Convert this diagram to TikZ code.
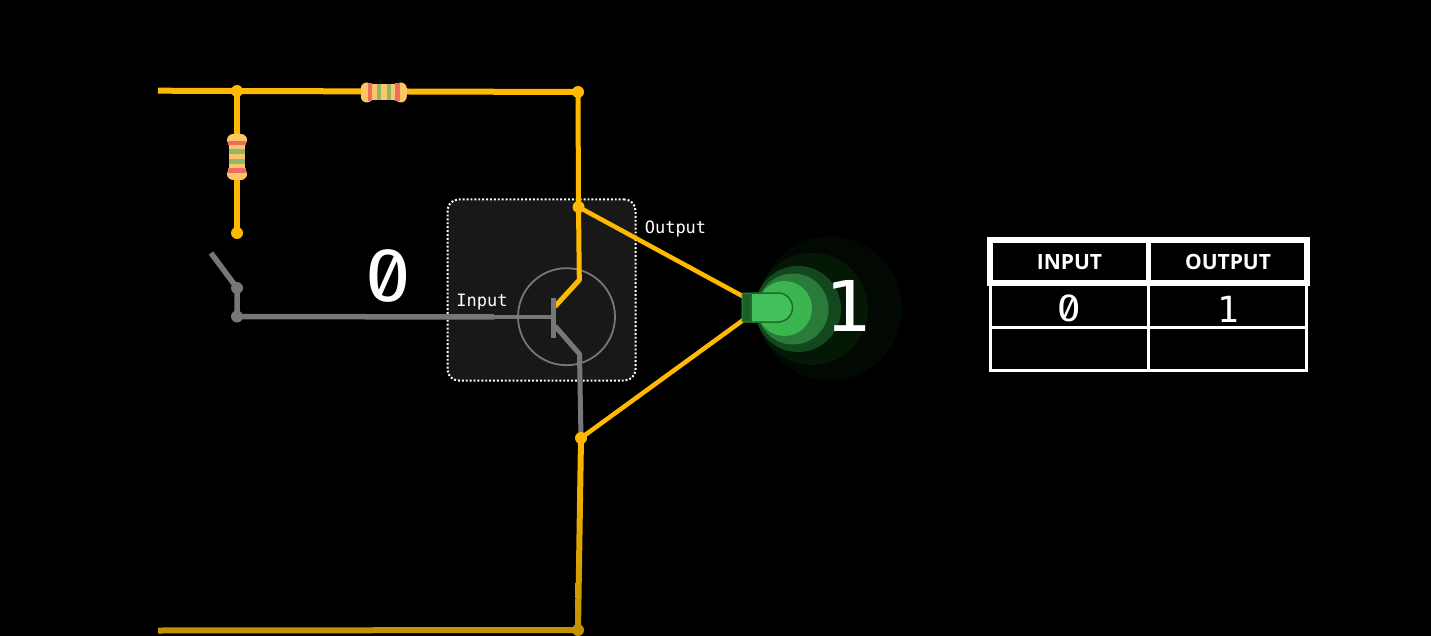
\documentclass[tikz,border=0pt]{standalone}
\usepackage{fontspec}
\setmainfont{Open Sans}
\newfontfamily\monof{DejaVu Sans Mono}
\newfontfamily\slashf[Numbers={SlashedZero,Monospaced}]{Fira Sans}
\definecolor{wireY}{HTML}{FFB900}
\definecolor{wireG}{HTML}{777777}
\definecolor{wireD}{HTML}{C29200}
\definecolor{boxbg}{HTML}{181818}
\definecolor{resBody}{HTML}{FDC565}
\definecolor{resRed}{HTML}{E8705C}
\definecolor{resGreen}{HTML}{8FB86C}
\definecolor{ledEdge}{HTML}{1F6B28}
\definecolor{ledBase}{HTML}{1C5E25}
\definecolor{ledBody}{HTML}{42C05A}
\definecolor{ledRim}{HTML}{2F8F3E}
\definecolor{glowA}{HTML}{020802}
\definecolor{glowB}{HTML}{051806}
\definecolor{glowC}{HTML}{13481E}
\definecolor{glowD}{HTML}{2A7A3A}
\definecolor{glowE}{HTML}{3CB54F}
\tikzset{
  wirey/.style={draw=wireY,line width=5pt,line join=round},
  wireg/.style={draw=wireG,line width=5.5pt,line join=round},
  dot/.style={circle,inner sep=0pt,minimum size=12pt,draw=none},
  ydot/.style={dot,fill=wireY},
  gdot/.style={dot,fill=wireG},
  mono/.style={text=white,font=\monof\fontsize{#1}{#1}\selectfont,inner sep=0pt},
  zeroface/.style={text=white,xscale=1.1,font=\slashf\fontsize{#1}{#1}\selectfont,inner sep=0pt},
  head/.style={text=white,font=\bfseries\fontsize{21}{21}\selectfont,inner sep=0pt},
  resistor/.pic={
    \fill[resBody,rounded corners=6pt] (-23,-10) rectangle (-11,10);
    \fill[resBody,rounded corners=6pt] (11,-10) rectangle (23,10);
    \fill[resBody] (-14,-8) rectangle (14,8);
    \fill[resRed] (-16,-9) rectangle (-11.5,9);
    \fill[resRed] (11.5,-9) rectangle (16,9);
    \fill[resGreen] (-7,-8) rectangle (-2.5,8);
    \fill[resGreen] (3,-8) rectangle (7.5,8);
  }
}
\begin{document}
\begin{tikzpicture}[x=1pt,y=-1pt]
\useasboundingbox (0,0) rectangle (1431,636);
\fill[black] (0,0) rectangle (1431,636);
% transistor box
\node[draw=white,fill=boxbg,line width=2pt,dash pattern=on 1.9pt off 2pt,rounded corners=11pt,
      minimum width=188pt,minimum height=181pt,inner sep=0pt] (box) at (541.5,290) {};
\node[circle,draw=wireG,line width=1.8pt,minimum size=97pt,inner sep=0pt] (trans) at (566.5,316.7) {};
% junction positions
\coordinate (left) at (158,90.7);
\coordinate (jtl) at (237,91);
\coordinate (jtr) at (578,92);
\coordinate (jcoll) at (578.5,207);
\coordinate (jc) at (579.3,280);
\coordinate (cb) at (555,306.5);
\coordinate (eb) at (555,326);
\coordinate (ee) at (579.5,354);
\coordinate (jemit) at (581,438);
\coordinate (jbr) at (578,630);
\coordinate (bl) at (158,630.5);
\coordinate (jopen) at (237,233);
\coordinate (sw) at (237,288);
\coordinate (swt) at (211,253);
\coordinate (jin) at (237,316.5);
\coordinate (inend) at (494,317);
\coordinate (bar) at (553,317);
\coordinate (bart) at (553,297.5);
\coordinate (barb) at (553,337.5);
\coordinate (ledt) at (746,298);
\coordinate (ledb) at (746,318);
% wires
\draw[wirey,line width=6pt] (left) -- (jtl) -- (jtr);
\draw[wirey,line width=6pt] (jtl) -- (jopen);
\draw[wirey] (jtr) -- (jcoll) -- (jc) -- (cb);
\draw[wirey,line width=4.5pt] (jcoll) -- (ledt);
\draw[wirey,line width=4.5pt] (jemit) -- (ledb);
\draw[wireg] (swt) -- (sw) -- (jin) -- (inend);
\draw[wireg,line width=3.5pt] (inend) -- (bar);
\draw[wireg,line width=5pt] (eb) -- (ee) -- (jemit);
\draw[draw=wireG,line width=5pt] (bart) -- (barb);
\shade[top color=wireY,bottom color=wireD] (578,438) -- (584,438) -- (581,630) -- (575,630) -- cycle;
\draw[draw=wireD,line width=6pt] (bl) -- (jbr);
% dots
\node[ydot] (d1) at (jtl) {};
\node[ydot] (d2) at (jtr) {};
\node[ydot] (d3) at (jcoll) {};
\node[ydot] (d4) at (jemit) {};
\node[dot,fill=wireD] (d5) at (jbr) {};
\node[ydot] (d6) at (jopen) {};
\node[gdot] (d7) at (sw) {};
\node[gdot] (d8) at (jin) {};
% resistors
\pic at (383.8,92.5) {resistor};
\pic[rotate=90] at (237,157) {resistor};
% LED glow
\fill[glowA] (830,308.5) circle[radius=72];
\fill[glowB] (812,309) circle[radius=56];
\fill[glowC] (798,309) circle[radius=43];
\fill[glowD] (793,309) circle[radius=35.5];
\fill[glowE] (784.5,308.5) circle[radius=27.5];
% LED
\node[draw=ledRim,fill=ledBase,line width=1pt,minimum width=9pt,minimum height=29pt,inner sep=0pt,rounded corners=1pt] (ledbase) at (746.5,307.5) {};
\draw[draw=ledEdge,fill=ledBody,line width=1.5pt]
  (751,293) -- (778,293) arc[start angle=90,end angle=-90,x radius=14.5,y radius=-14.5] -- (751,322) -- cycle;
% labels
\node[zeroface=74,anchor=base] (zero) at (388,301) {0};
\node[mono=70,anchor=base,xscale=1.1] (one) at (847.5,331) {1};
\node[mono=17,anchor=base] (inp) at (482,306) {Input};
\node[mono=17,anchor=base] (outp) at (675.5,234) {Output};
% table
\draw[white,line width=3pt] (990,284) rectangle (1306.3,370.5);
\draw[white,line width=3pt] (990,327.7) -- (1306.3,327.7);
\draw[white,line width=3pt] (1148.7,284) -- (1148.7,370.5);
\draw[white,fill=black,line width=6pt] (990.3,240.3) rectangle (1307,283.3);
\draw[white,line width=5.5pt] (1148.5,240.3) -- (1148.5,283.3);
\node[head,anchor=base] (tin) at (1069.5,269.5) {INPUT};
\node[head,anchor=base] (tout) at (1228,269.5) {OUTPUT};
\node[zeroface=38,anchor=base] (tz) at (1069.5,321.5) {0};
\node[mono=36,anchor=base] (to) at (1228,322) {1};
\end{tikzpicture}
\end{document}
